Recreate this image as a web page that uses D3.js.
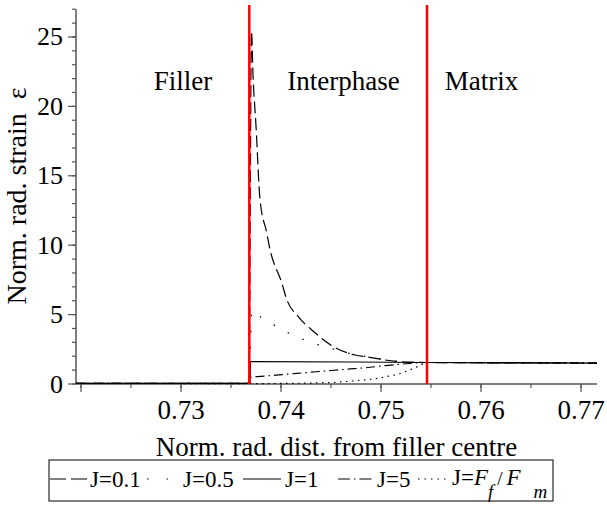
<!DOCTYPE html>
<html><head><meta charset="utf-8">
<script src="https://cdn.jsdelivr.net/npm/d3@7"></script>
<style>body{margin:0;background:#fff}svg{display:block}text{font-family:"Liberation Serif","Times New Roman",serif;fill:#000}</style>
</head><body>
<script>
// ---- data ----
const seriesNames = ["J=0.1", "J=0.5", "J=1", "J=5", "J=Ff/Fm"];
const j01 = [[0.7195,0.05],[0.7368,0.05],[0.73705,25.4],[0.7372,22.3],[0.7375,18.6],[0.7379,13.3],[0.73857,10.9],[0.7389,9.7],[0.74007,7.3],[0.74057,6.1],[0.74173,4.85],[0.74323,3.8],[0.7454,2.62],[0.7474,2.09],[0.7489,1.92],[0.7504,1.73],[0.7527,1.58],[0.7546,1.55],[0.7716,1.51]];
const j05 = [[0.7195,0.05],[0.7368,0.05],[0.7371,5.3],[0.7374,5.12],[0.7389,4.42],[0.7405,3.77],[0.74213,3.24],[0.74383,2.81],[0.74557,2.45],[0.74723,2.14],[0.7490,1.92],[0.75057,1.73],[0.75257,1.58],[0.7546,1.55],[0.7716,1.51]];
const j1 = [[0.7195,0.05],[0.7369,0.05],[0.73695,1.62],[0.7546,1.55],[0.7716,1.51]];
const j5 = [[0.7195,0.05],[0.7369,0.05],[0.73695,0.48],[0.7385,0.58],[0.7405,0.70],[0.7425,0.82],[0.7445,0.94],[0.7465,1.06],[0.7485,1.17],[0.7505,1.33],[0.7525,1.46],[0.7546,1.55],[0.7716,1.51]];
const jff = [[0.7195,0.05],[0.7369,0.03],[0.7400,0.04],[0.7430,0.07],[0.7455,0.13],[0.7475,0.24],[0.7490,0.34],[0.7505,0.52],[0.7520,0.78],[0.7530,1.05],[0.7538,1.3],[0.7546,1.55],[0.7716,1.51]];
const boundaries = [0.73683, 0.7546];
const boundaryRange = [0, 27.3];
const regionLabels = ["Filler", "Interphase", "Matrix"];
const regionCentres = [0.7302, 0.74625, 0.76005];
const xTicks = [0.72, 0.73, 0.74, 0.75, 0.76, 0.77];
const xTickLabels = ["", "0.73", "0.74", "0.75", "0.76", "0.77"];
const yTicks = [0, 5, 10, 15, 20, 25];

const W = 607, H = 505;
const svg = d3.select("body").append("svg").attr("width", W).attr("height", H);
const x = d3.scaleLinear().domain([0.7195, 0.7716]).range([76, 597]);
const y = d3.scaleLinear().domain([0, 27]).range([384, 9.2]);

const axisColor = "#555";
// x axis
const xAxisG = svg.append("g").attr("transform", `translate(0,${y(0)})`);
xAxisG.append("line").attr("x1", x.range()[0]).attr("x2", x.range()[1]).attr("stroke", axisColor).attr("stroke-width", 1.5);
const xMinor = d3.range(0.72, 0.7716, 0.005);
xAxisG.selectAll("line.minor").data(xMinor).join("line").attr("class","minor")
  .attr("x1", d => x(d)).attr("x2", d => x(d)).attr("y1", 0).attr("y2", 4).attr("stroke", axisColor).attr("stroke-width", 1.2);
xAxisG.selectAll("line.major").data(xTicks).join("line").attr("class","major")
  .attr("x1", d => x(d)).attr("x2", d => x(d)).attr("y1", 0).attr("y2", 8).attr("stroke", axisColor).attr("stroke-width", 1.2);
xAxisG.selectAll("text").data(xTicks).join("text")
  .attr("x", d => x(d)).attr("y", 35).attr("text-anchor", "middle").attr("font-size", 27)
  .text((d,i) => xTickLabels[i]);

// y axis
const yAxisG = svg.append("g").attr("transform", `translate(${x.range()[0]},0)`);
yAxisG.append("line").attr("y1", y(0)).attr("y2", y(27)).attr("stroke", axisColor).attr("stroke-width", 1.5);
const yMinor = d3.range(0, 28, 1);
yAxisG.selectAll("line.minor").data(yMinor).join("line").attr("class","minor")
  .attr("x1", -4).attr("x2", 0).attr("y1", d => y(d)).attr("y2", d => y(d)).attr("stroke", axisColor).attr("stroke-width", 1.2);
yAxisG.selectAll("line.major").data(yTicks).join("line").attr("class","major")
  .attr("x1", -8).attr("x2", 0).attr("y1", d => y(d)).attr("y2", d => y(d)).attr("stroke", axisColor).attr("stroke-width", 1.2);
yAxisG.selectAll("text").data(yTicks).join("text")
  .attr("x", -13).attr("y", d => y(d) + 8.5).attr("text-anchor", "end").attr("font-size", 26)
  .text(d => d);

// titles
svg.append("text").attr("x", (x.range()[0] + x.range()[1]) / 2).attr("y", 456).attr("text-anchor", "middle").attr("font-size", 27)
  .text("Norm. rad. dist. from filler centre");
svg.append("text").attr("transform", "translate(26,196) rotate(-90)").attr("text-anchor", "middle").attr("font-size", 28)
  .style("white-space", "pre").text("Norm. rad. strain  ε");

// region labels
svg.selectAll("text.region").data(regionLabels).join("text").attr("class","region")
  .attr("x", (d,i) => x(regionCentres[i])).attr("y", 90).attr("text-anchor", "middle").attr("font-size", 27)
  .text(d => d);

// curves
const line = d3.line().x(d => x(d[0])).y(d => y(d[1])).curve(d3.curveMonotoneX);
const styles = [
  {data: j01, dash: "12,5"},
  {data: j05, dash: "1.5,14.5"},
  {data: j1, dash: null},
  {data: j5, dash: "9,4,1.5,4"},
  {data: jff, dash: "1.5,4.5"}
];
styles.forEach(s => {
  svg.append("path").attr("d", line(s.data)).attr("fill", "none").attr("stroke", "#000")
    .attr("stroke-width", 1.2).attr("stroke-dasharray", s.dash);
});

// boundaries
svg.selectAll("line.bound").data(boundaries).join("line").attr("class","bound")
  .attr("x1", d => x(d)).attr("x2", d => x(d)).attr("y1", y(boundaryRange[0])).attr("y2", y(boundaryRange[1]))
  .attr("stroke", "#ff0000").attr("stroke-width", 2.5);

// legend
const lg = svg.append("g");
lg.append("rect").attr("x", 49).attr("y", 460).attr("width", 504).attr("height", 41)
  .attr("fill", "none").attr("stroke", "#000").attr("stroke-width", 1);
const ly = 479, ty = 487;
const legendSamples = [
  {x1: 50, x2: 88, dash: "16,5"},
  {x1: 147, x2: 170, dash: "1.5,18"},
  {x1: 243, x2: 281, dash: null},
  {x1: 338, x2: 373, dash: "12,4,1.5,4"},
  {x1: 418, x2: 449, dash: "1.5,5"}
];
legendSamples.forEach(s => {
  lg.append("line").attr("x1", s.x1).attr("x2", s.x2).attr("y1", ly).attr("y2", ly)
    .attr("stroke", "#000").attr("stroke-width", 1.2).attr("stroke-dasharray", s.dash);
});
const legendTextX = [90, 183, 285, 377];
seriesNames.slice(0,4).forEach((n,i) => {
  lg.append("text").attr("x", legendTextX[i]).attr("y", ty).attr("font-size", 23).text(n);
});
const t5 = lg.append("text").attr("x", 452).attr("y", ty - 2).attr("font-size", 23);
t5.append("tspan").text("J=");
t5.append("tspan").attr("font-style", "italic").text("F");
t5.append("tspan").attr("font-style", "italic").attr("font-size", 19).attr("dy", 13).text("f");
t5.append("tspan").attr("dx", 4).attr("dy", -13).attr("font-size", 19).text("/");
t5.append("tspan").attr("dx", 4).attr("font-style", "italic").text("F");
t5.append("tspan").attr("font-style", "italic").attr("font-size", 19).attr("dx", 13).attr("dy", 13).text("m");
</script>
</body></html>
